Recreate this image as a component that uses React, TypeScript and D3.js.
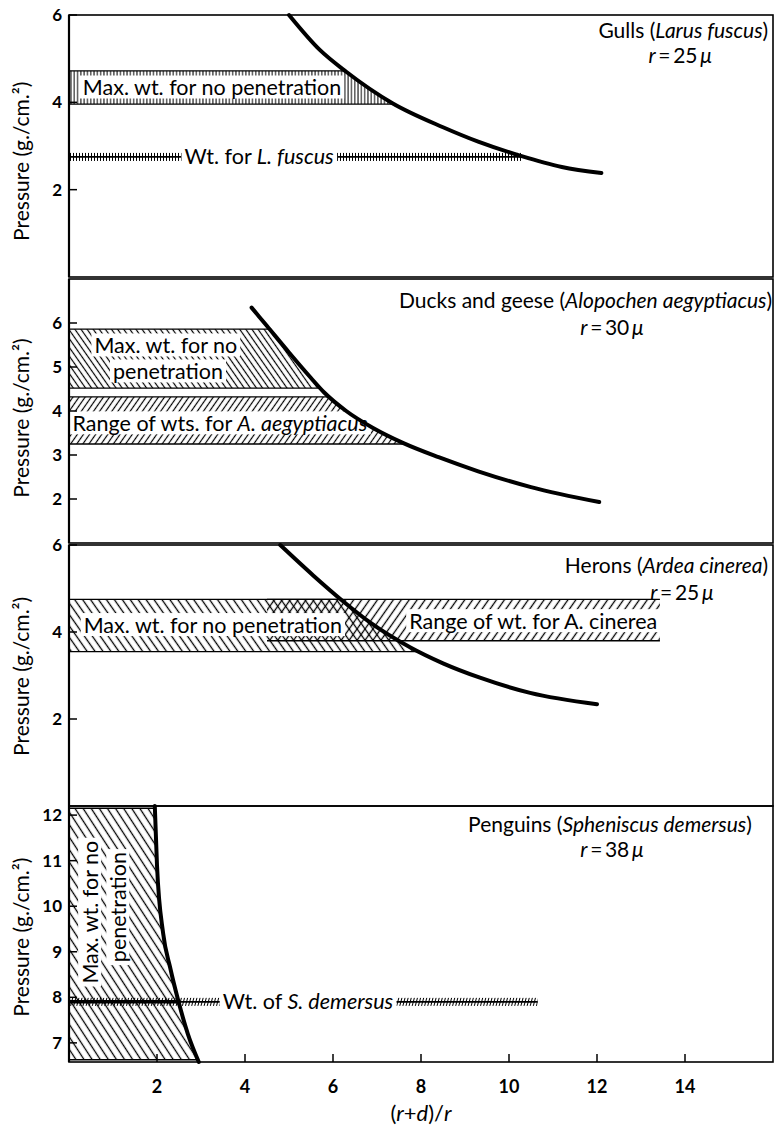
import { useEffect, useRef } from "react";
import * as d3 from "d3";

type Pt = [number, number];
type Seg = [string, boolean];

const W = 778;
const H = 1125;
const FONT = "Lato, 'Open Sans', sans-serif";

// shared x axis, (r+d)/r
const xDomain: [number, number] = [0, 16];
const xTicks = [2, 4, 6, 8, 10, 12, 14];

// y ticks per panel
const gullsTicks = [2, 4, 6];
const ducksTicks = [2, 3, 4, 5, 6];
const heronsTicks = [2, 4, 6];
const penguinsTicks = [7, 8, 9, 10, 11, 12];

const gullsDomain: [number, number] = [0, 6];
const ducksDomain: [number, number] = [1, 7];
const heronsDomain: [number, number] = [0, 6];
const penguinsDomain: [number, number] = [6.58, 12.2];

// pressure curves: [(r+d)/r, g/cm2]
const gullsCurve: Pt[] = [
  [5.0, 6.0], [5.7, 5.2], [6.3, 4.7], [7.35, 3.98], [8.5, 3.43], [9.3, 3.1], [10.25, 2.78], [11.2, 2.52], [12.1, 2.38],
];
const ducksCurve: Pt[] = [
  [4.15, 6.35], [4.5, 5.93], [5.0, 5.33], [5.5, 4.75], [5.8, 4.42], [6.3, 4.0], [6.9, 3.62], [7.6, 3.27],
  [8.4, 2.95], [9.3, 2.63], [10.5, 2.27], [12.05, 1.93],
];
const heronsCurve: Pt[] = [
  [4.8, 6.0], [5.55, 5.3], [6.2, 4.73], [6.84, 4.22], [7.75, 3.65], [8.5, 3.28], [9.34, 2.95], [10.48, 2.6], [12.0, 2.34],
];
const penguinsCurve: Pt[] = [
  [1.95, 12.2], [2.0, 10.9], [2.14, 9.4], [2.3, 8.65], [2.48, 7.94], [2.7, 7.2], [2.95, 6.58],
];

// bands [low, high]
const gullsMaxBand: [number, number] = [3.96, 4.72];
const ducksMaxBand: [number, number] = [4.52, 5.86];
const ducksRangeBand: [number, number] = [3.25, 4.32];
const heronsMaxBand: [number, number] = [3.55, 4.75];
const heronsRangeBand: [number, number] = [3.8, 4.75];
const heronsRangeX: [number, number] = [4.5, 13.43];
const penguinsMaxBand: [number, number] = [6.63, 12.15];

// body weights [pressure, end of line]
const gullsWeight: [number, number] = [2.75, 10.3];
const penguinsWeight: [number, number] = [7.9, 10.65];

const panels = [
  {
    top: 15, bottom: 277, domain: gullsDomain, ticks: gullsTicks, curve: gullsCurve,
    title: [["Gulls (", false], ["Larus fuscus", true], [")", false]] as Seg[], titleAt: [15.89, 5.64],
    radius: "25", rAt: [13.89, 5.06], yLabelAt: 2.65,
    bands: [{ band: gullsMaxBand, hatch: "hv", clip: true, x0: 0, x1: 16 }],
    weights: [{ w: gullsWeight, rail: "railV", solid: false }],
    labels: [
      { t: [["Max. wt. for no penetration", false]] as Seg[], at: [3.25, 4.34], rot: 0 },
      { t: [["Wt. for ", false], ["L. fuscus", true]] as Seg[], at: [4.32, 2.75], rot: 0 },
    ],
  },
  {
    top: 279, bottom: 543, domain: ducksDomain, ticks: ducksTicks, curve: ducksCurve,
    title: [["Ducks and geese (", false], ["Alopochen aegyptiacus", true], [")", false]] as Seg[], titleAt: [15.98, 6.5],
    radius: "30", rAt: [12.34, 5.9], yLabelAt: 3.84,
    bands: [
      { band: ducksMaxBand, hatch: "hb5", clip: true, x0: 0, x1: 16 },
      { band: ducksRangeBand, hatch: "hs5", clip: true, x0: 0, x1: 16 },
    ],
    weights: [],
    labels: [
      { t: [["Max. wt. for no", false]] as Seg[], at: [2.2, 5.49], rot: 0 },
      { t: [["penetration", false]] as Seg[], at: [2.25, 4.9], rot: 0 },
      { t: [["Range of wts. for ", false], ["A. aegyptiacus", true]] as Seg[], at: [3.43, 3.72], rot: 0 },
    ],
  },
  {
    top: 545, bottom: 806, domain: heronsDomain, ticks: heronsTicks, curve: heronsCurve,
    title: [["Herons (", false], ["Ardea cinerea", true], [")", false]] as Seg[], titleAt: [15.89, 5.52],
    radius: "25", rAt: [13.93, 4.9], yLabelAt: 2.98,
    bands: [
      { band: heronsRangeBand, hatch: "hs6", clip: false, x0: heronsRangeX[0], x1: heronsRangeX[1] },
      { band: heronsMaxBand, hatch: "hb6", clip: true, x0: 0, x1: 16 },
    ],
    weights: [],
    labels: [
      { t: [["Max. wt. for no penetration", false]] as Seg[], at: [3.27, 4.16], rot: 0 },
      { t: [["Range of wt. for A. cinerea", false]] as Seg[], at: [10.55, 4.25], rot: 0 },
    ],
  },
  {
    top: 806, bottom: 1062, domain: penguinsDomain, ticks: penguinsTicks, curve: penguinsCurve,
    title: [["Penguins (", false], ["Spheniscus demersus", true], [")", false]] as Seg[], titleAt: [15.52, 11.8],
    radius: "38", rAt: [12.34, 11.24], yLabelAt: 9.32,
    bands: [{ band: penguinsMaxBand, hatch: "hb7", clip: true, x0: 0, x1: 16 }],
    weights: [{ w: penguinsWeight, rail: "railS", solid: true }],
    labels: [
      { t: [["Max. wt. for no", false]] as Seg[], at: [0.48, 9.87], rot: -90 },
      { t: [["penetration", false]] as Seg[], at: [1.12, 9.98], rot: -90 },
      { t: [["Wt. of ", false], ["S. demersus", true]] as Seg[], at: [5.43, 7.9], rot: 0 },
    ],
  },
];

export default function App() {
  const ref = useRef<SVGSVGElement>(null);

  useEffect(() => {
    const svg = d3.select(ref.current);
    svg.selectAll("*").remove();
    const defs = svg.append("defs");

    const hatch = (id: string, spacing: number, angle: number, sw: number, h = 10) => {
      defs
        .append("pattern")
        .attr("id", id)
        .attr("patternUnits", "userSpaceOnUse")
        .attr("width", spacing)
        .attr("height", h)
        .attr("patternTransform", `rotate(${angle})`)
        .append("line")
        .attr("x1", spacing / 2)
        .attr("x2", spacing / 2)
        .attr("y1", 0)
        .attr("y2", h)
        .attr("stroke", "#000")
        .attr("stroke-width", sw);
    };
    hatch("hv", 3.3, 0, 1);
    hatch("hb5", 5, -35, 1.2);
    hatch("hs5", 5, 35, 1.2);
    hatch("hb6", 6.5, -35, 1.3);
    hatch("hs6", 6.5, 35, 1.3);
    hatch("hb7", 6.8, -33, 1.3);
    hatch("railV", 3, 0, 1, 8);
    hatch("railS", 3, 15, 1, 8);

    const x = d3.scaleLinear().domain(xDomain).range([69, 773]);

    const addLabel = (
      parent: d3.Selection<SVGGElement, unknown, null, undefined>,
      segs: Seg[],
      px: number,
      py: number,
      opt: { rot?: number; anchor?: string; size?: number; box?: boolean }
    ) => {
      const g = parent.append("g").attr("transform", `translate(${px},${py}) rotate(${opt.rot || 0})`);
      const t = g
        .append("text")
        .attr("text-anchor", opt.anchor || "middle")
        .attr("dy", "0.35em")
        .attr("font-size", opt.size || 21.5)
        .attr("fill", "#000");
      segs.forEach(([s, it]) => t.append("tspan").attr("font-style", it ? "italic" : null).text(s));
      if (opt.box) {
        const b = (t.node() as SVGTextElement).getBBox();
        g.insert("rect", "text")
          .attr("x", b.x - 3)
          .attr("y", b.y + 1.5)
          .attr("width", b.width + 6)
          .attr("height", b.height - 3)
          .attr("fill", "#fff");
      }
      return g;
    };

    panels.forEach((p, i) => {
      const g = svg.append("g");
      const y = d3.scaleLinear().domain(p.domain).range([p.bottom, p.top]);
      const line = d3
        .line<Pt>()
        .x((d) => x(d[0]))
        .y((d) => y(d[1]))
        .curve(d3.curveMonotoneX);

      // region left of / below the curve
      const c = p.curve;
      const last = c[c.length - 1];
      const curvePath = line(c) as string;
      const under =
        `M${x(0)},${y(p.domain[0])}L${x(0)},${y(c[0][1])}L` +
        curvePath.slice(1) +
        `L${x(last[0])},${y(p.domain[0])}Z`;
      const clipId = `under-${i}`;
      defs.append("clipPath").attr("id", clipId).append("path").attr("d", under);
      // where the curve sits at a given pressure
      const curveAt = d3
        .scaleLinear()
        .domain(c.map((d) => d[1]))
        .range(c.map((d) => d[0]));

      p.bands.forEach((b) => {
        const bg = g.append("g").attr("clip-path", b.clip ? `url(#${clipId})` : null);
        bg.append("rect")
          .attr("x", x(b.x0))
          .attr("y", y(b.band[1]))
          .attr("width", x(b.x1) - x(b.x0))
          .attr("height", y(b.band[0]) - y(b.band[1]))
          .attr("fill", `url(#${b.hatch})`);
        bg.selectAll("line.edge")
          .data(b.band)
          .join("line")
          .attr("x1", x(b.x0))
          .attr("x2", x(b.x1))
          .attr("y1", (d) => y(d))
          .attr("y2", (d) => y(d))
          .attr("stroke", "#000")
          .attr("stroke-width", 1.4);
      });

      p.weights.forEach((wt) => {
        const [wy, wx] = wt.w;
        g.append("rect")
          .attr("x", x(0))
          .attr("y", y(wy) - 4)
          .attr("width", x(wx) - x(0))
          .attr("height", 8)
          .attr("fill", `url(#${wt.rail})`);
        g.append("line")
          .attr("x1", x(0))
          .attr("x2", x(wx))
          .attr("y1", y(wy))
          .attr("y2", y(wy))
          .attr("stroke", "#000")
          .attr("stroke-width", 1.8);
        if (wt.solid) {
          g.append("line")
            .attr("x1", x(0))
            .attr("x2", x(curveAt(wy)))
            .attr("y1", y(wy))
            .attr("y2", y(wy))
            .attr("stroke", "#000")
            .attr("stroke-width", 3.5);
        }
      });

      p.labels.forEach((l) => addLabel(g, l.t, x(l.at[0]), y(l.at[1]), { rot: l.rot, box: true }));

      g.append("path")
        .attr("d", curvePath)
        .attr("fill", "none")
        .attr("stroke", "#000")
        .attr("stroke-width", 4)
        .attr("stroke-linecap", "round");

      // titles
      addLabel(g, p.title, x(p.titleAt[0]), y(p.titleAt[1]), { anchor: "end", size: 21 });
      addLabel(g, [["r", true], ["\u2009=\u2009", false], [p.radius + "\u2009", false], ["μ", true]], x(p.rAt[0]), y(p.rAt[1]), {
        size: 21,
      });

      // y axis
      const ya = g.append("g");
      ya.selectAll("line")
        .data(p.ticks)
        .join("line")
        .attr("x1", x(0))
        .attr("x2", x(0) + 8)
        .attr("y1", (d) => y(d))
        .attr("y2", (d) => y(d))
        .attr("stroke", "#000")
        .attr("stroke-width", 1.5);
      ya.selectAll("text")
        .data(p.ticks)
        .join("text")
        .attr("x", x(0) - 7)
        .attr("y", (d) => y(d))
        .attr("dy", "0.36em")
        .attr("text-anchor", "end")
        .attr("font-size", 17)
        .attr("font-weight", "bold")
        .attr("fill", "#000")
        .text((d) => d);
      addLabel(g, [["Pressure (g./cm.²)", false]], 22, y(p.yLabelAt), { rot: -90, size: 21 });

      // frame
      g.append("rect")
        .attr("x", x(xDomain[0]))
        .attr("y", p.top)
        .attr("width", x(xDomain[1]) - x(xDomain[0]))
        .attr("height", p.bottom - p.top)
        .attr("fill", "none")
        .attr("stroke", "#000")
        .attr("stroke-width", 1.6);
      g.append("line")
        .attr("x1", x(0))
        .attr("x2", x(0))
        .attr("y1", p.top)
        .attr("y2", p.bottom)
        .attr("stroke", "#000")
        .attr("stroke-width", 2.2);

      if (i === panels.length - 1) {
        const xa = g.append("g");
        xa.selectAll("line")
          .data(xTicks)
          .join("line")
          .attr("x1", (d) => x(d))
          .attr("x2", (d) => x(d))
          .attr("y1", p.bottom)
          .attr("y2", p.bottom - 8)
          .attr("stroke", "#000")
          .attr("stroke-width", 1.5);
        xa.selectAll("text")
          .data(xTicks)
          .join("text")
          .attr("x", (d) => x(d))
          .attr("y", p.bottom + 25)
          .attr("dy", "0.36em")
          .attr("text-anchor", "middle")
          .attr("font-size", 18)
          .attr("font-weight", "bold")
          .attr("fill", "#000")
          .text((d) => d);
        addLabel(
          g,
          [["(", false], ["r", true], ["+", false], ["d", true], [")/", false], ["r", true]],
          x(8),
          p.bottom + 51,
          { size: 22 }
        );
      }
    });
  }, []);

  return (
    <svg
      ref={ref}
      width={W}
      height={H}
      fontFamily={FONT}
      style={{ position: "absolute", left: 0, top: 0, background: "#fff" }}
    />
  );
}
